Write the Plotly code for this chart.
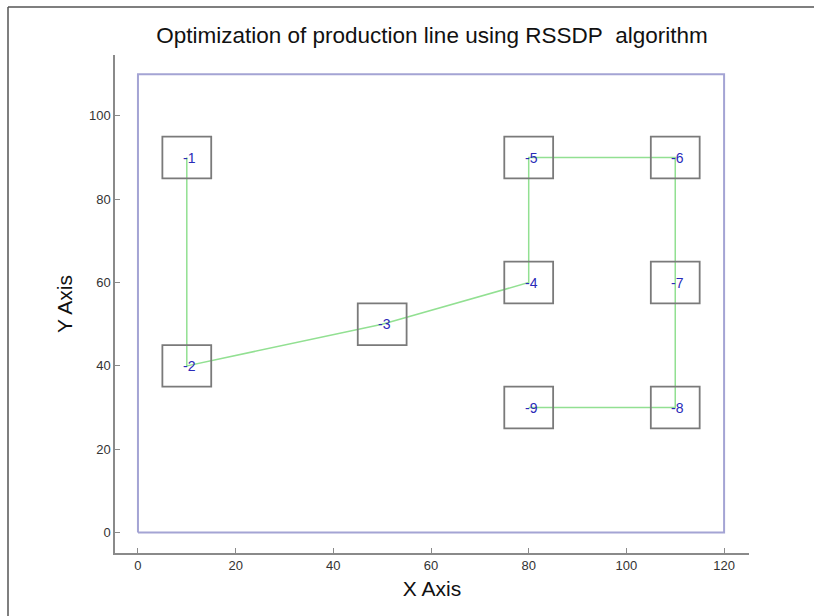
import plotly.graph_objects as go

# ---- data ----
node_labels = ["1", "2", "3", "4", "5", "6", "7", "8", "9"]
node_x = [10, 10, 50, 80, 80, 110, 110, 110, 80]
node_y = [90, 40, 50, 60, 90, 90, 60, 30, 30]
box_half = 5
floor_x = [0, 120, 120, 0, 0]
floor_y = [0, 0, 110, 110, 0]
x_ticks = [0, 20, 40, 60, 80, 100, 120]
y_ticks = [0, 20, 40, 60, 80, 100]

FONT = "Liberation Sans, Arial, sans-serif"

fig = go.Figure()

# production floor boundary
fig.add_trace(go.Scatter(x=floor_x, y=floor_y, mode="lines",
                         line=dict(color="#a4a4d4", width=2),
                         hoverinfo="skip", showlegend=False))

# path
fig.add_trace(go.Scatter(x=node_x, y=node_y, mode="lines",
                         line=dict(color="#92e092", width=1.5),
                         hoverinfo="skip", showlegend=False))

shapes = []
for cx, cy in zip(node_x, node_y):
    shapes.append(dict(type="rect", xref="x", yref="y",
                       x0=cx - box_half, x1=cx + box_half,
                       y0=cy - box_half, y1=cy + box_half,
                       line=dict(color="#7a7a7a", width=1.8)))

# image border (top and left)
px_l, px_r, px_t, px_b = 115, 749, 55, 553
def px2paper_x(p):
    return (p - px_l) / (px_r - px_l)
def px2paper_y(p):
    return (px_b - p) / (px_b - px_t)
shapes.append(dict(type="line", xref="paper", yref="paper",
                   x0=px2paper_x(8), x1=px2paper_x(814),
                   y0=px2paper_y(7), y1=px2paper_y(7),
                   line=dict(color="#555555", width=1.5)))
shapes.append(dict(type="line", xref="paper", yref="paper",
                   x0=px2paper_x(8), x1=px2paper_x(8),
                   y0=px2paper_y(7), y1=px2paper_y(616),
                   line=dict(color="#555555", width=1.5)))

annotations = []
for lab, cx, cy in zip(node_labels, node_x, node_y):
    annotations.append(dict(x=cx, y=cy, xref="x", yref="y", text="-" + lab,
                            showarrow=False, xanchor="left", yanchor="middle",
                            xshift=-6,
                            font=dict(family=FONT, size=14, color="#2a2ab8")))

fig.update_layout(
    width=814, height=616,
    margin=dict(l=px_l, r=814 - px_r, t=px_t, b=616 - px_b),
    paper_bgcolor="white", plot_bgcolor="white",
    showlegend=False,
    shapes=shapes,
    annotations=annotations,
    title=dict(text="Optimization of production line using RSSDP\u00a0 algorithm",
               x=0.5, xref="paper", xanchor="center",
               y=1 - 35 / 616, yref="container", yanchor="middle",
               font=dict(family=FONT, size=22.5, color="#111111")),
    xaxis=dict(range=[-4.7, 125.1], tickvals=x_ticks, showgrid=False, zeroline=False,
               showline=True, linecolor="#8a8a8a", linewidth=1.5,
               ticks="inside", ticklen=5, tickcolor="#8a8a8a",
               tickfont=dict(family=FONT, size=13, color="#333333"),
               title=dict(text="X Axis", standoff=9,
                          font=dict(family=FONT, size=21, color="#111111"))),
    yaxis=dict(range=[-4.9, 114.6], tickvals=y_ticks, showgrid=False, zeroline=False,
               showline=True, linecolor="#8a8a8a", linewidth=1.5,
               ticks="inside", ticklen=5, tickcolor="#8a8a8a",
               tickfont=dict(family=FONT, size=13, color="#333333"),
               title=dict(text="Y Axis", standoff=11,
                          font=dict(family=FONT, size=21, color="#111111"))),
)

fig.write_html("out.html", config={"displayModeBar": False},
               post_script="document.body.style.margin='0';document.body.style.padding='0';")
